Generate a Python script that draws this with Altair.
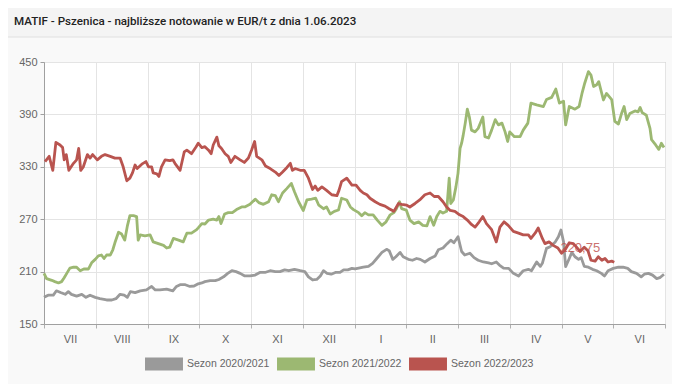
import altair as alt
import pandas as pd

title_text = "MATIF - Pszenica - najbliższe notowanie w EUR/t z dnia 1.06.2023"
months = ["VII", "VIII", "IX", "X", "XI", "XII", "I", "II", "III", "IV", "V", "VI", ""]
series_names = ["Sezon 2020/2021", "Sezon 2021/2022", "Sezon 2022/2023"]
series_colors = ["#9a9a9a", "#9cb872", "#b9544f"]
y_ticks = [150, 210, 270, 330, 390, 450]
last_label = "220,75"

# month position (0 = start of July) and EUR/t values
gray_x = [0.00, 0.08, 0.18, 0.24, 0.32, 0.41, 0.47, 0.53, 0.63, 0.73, 0.81, 0.89, 0.99, 1.08, 1.21, 1.31, 1.39, 1.47, 1.55, 1.61, 1.67, 1.76, 1.86, 1.98, 2.08, 2.15, 2.24, 2.37, 2.49, 2.56, 2.63, 2.73, 2.82, 2.90,
          2.98, 3.05, 3.11, 3.21, 3.31, 3.38, 3.47, 3.55, 3.63, 3.71, 3.79, 3.88, 3.98, 4.08, 4.17, 4.27, 4.37, 4.47, 4.56, 4.65, 4.73, 4.84, 4.95, 5.04, 5.11, 5.19, 5.27, 5.34, 5.40, 5.47, 5.55, 5.63, 5.72, 5.79, 5.87, 5.95,
          6.01, 6.08, 6.17, 6.27, 6.35, 6.43, 6.53, 6.62, 6.67, 6.74, 6.80, 6.88, 6.94, 7.04, 7.12, 7.20, 7.27, 7.36, 7.46, 7.56, 7.62, 7.71, 7.79, 7.86, 7.92, 8.00, 8.07, 8.13, 8.23, 8.31, 8.39, 8.49, 8.59, 8.65, 8.74, 8.80, 8.88,
          8.98, 9.07, 9.17, 9.26, 9.36, 9.42, 9.52, 9.59, 9.63, 9.71, 9.78, 9.88, 9.94, 9.99, 10.04, 10.08, 10.15, 10.20, 10.26, 10.33, 10.38, 10.44, 10.52, 10.60, 10.68, 10.77, 10.83, 10.90, 11.00, 11.10, 11.19, 11.28, 11.35, 11.45, 11.54, 11.60, 11.68, 11.76, 11.84, 11.90, 11.98]
gray_y = [180.5, 183, 183, 188, 186, 184, 187, 184, 182, 184, 180.5, 183, 180.5, 179, 177.5, 177.5, 179, 184, 183, 180.5, 187, 186, 188, 189, 193, 189, 189, 190, 188, 193, 195, 195, 193, 193.5,
          196, 197, 198.5, 199.6, 199.6, 201, 204, 208, 211, 210, 208, 205, 205, 206, 209, 209, 211, 210, 210, 212, 211, 212.6, 211, 210, 204, 200.4, 201, 205, 211, 208, 207, 209, 209, 212, 212, 213.7,
          213, 214, 215, 216, 219.5, 225, 232, 235.5, 234, 224, 227, 232, 227, 224, 223, 225, 224, 221, 225, 228, 235, 237, 242, 246, 243, 250, 233, 229, 231, 226, 223, 221, 220, 219, 221, 217.5, 214,
          213.7, 208, 205, 211, 212.6, 211, 221, 216, 219.5, 236.6, 238.5, 244, 250, 257.6, 244, 215.6, 225, 232, 227, 224, 226, 216, 215, 212.6, 211, 208, 205, 211, 213.7, 215, 215, 213.7, 210, 208, 204, 207, 208, 206, 202, 203, 207]

green_x = [0.00, 0.05, 0.15, 0.21, 0.28, 0.34, 0.39, 0.44, 0.50, 0.57, 0.63, 0.70, 0.77, 0.86, 0.92, 0.99, 1.05, 1.11, 1.16, 1.21, 1.28, 1.33, 1.37, 1.44, 1.50, 1.56, 1.61, 1.66, 1.73, 1.79, 1.82, 1.86, 1.95, 2.05, 2.11, 2.21, 2.31, 2.37, 2.43, 2.50, 2.60, 2.69, 2.76, 2.85, 2.95,
           2.98, 3.05, 3.11, 3.18, 3.27, 3.34, 3.38, 3.42, 3.49, 3.56, 3.64, 3.72, 3.82, 3.88, 3.98, 4.08, 4.15, 4.24, 4.34, 4.40, 4.47, 4.53, 4.61, 4.69, 4.78, 4.84, 4.92, 5.01, 5.08, 5.17, 5.25, 5.31, 5.40, 5.46, 5.53, 5.61, 5.69, 5.75, 5.85, 5.92,
           5.98, 6.08, 6.14, 6.20, 6.27, 6.36, 6.44, 6.53, 6.61, 6.69, 6.76, 6.81, 6.87, 6.91, 7.00, 7.07, 7.15, 7.24, 7.32, 7.40, 7.46, 7.53, 7.59, 7.65, 7.71, 7.78, 7.83, 7.86, 7.91, 7.96, 8.00, 8.04, 8.07, 8.10, 8.14, 8.18, 8.22, 8.26, 8.33, 8.39, 8.48, 8.52, 8.59, 8.65, 8.72, 8.78, 8.85,
           8.91, 8.96, 9.00, 9.09, 9.20, 9.26, 9.35, 9.41, 9.52, 9.65, 9.71, 9.81, 9.89, 9.96, 10.04, 10.08, 10.15, 10.26, 10.34, 10.40, 10.45, 10.52, 10.57, 10.62, 10.68, 10.72, 10.81, 10.87, 10.97, 11.03, 11.10, 11.16, 11.21, 11.26, 11.32, 11.42, 11.48, 11.52, 11.56, 11.64, 11.71, 11.74, 11.82, 11.88, 11.93, 11.98]
green_y = [208, 202, 200, 198.5, 197, 198.5, 203, 208, 214, 215, 215, 211, 213, 213, 220, 224, 228, 229, 225, 229, 229, 235, 243, 255, 253, 246, 262, 274, 274, 273, 246, 252, 251, 252, 244, 242, 240, 237, 238, 248, 246, 244, 254, 254, 258,
           260, 265, 264.5, 269, 270, 269, 273, 265, 276, 277.5, 277.5, 281, 284, 284, 287, 293, 289, 287, 290, 298, 297, 290, 300, 305, 311, 301.5, 290, 280, 292, 293, 294, 286, 282, 284, 276, 279, 280.5, 294, 292, 284,
           281, 277.5, 274, 277.5, 275, 275, 269, 263, 267, 275, 277.5, 282, 290, 282, 280.5, 269, 265, 267, 263, 262.5, 273, 263, 273, 279, 277, 279, 317, 288, 292, 307, 322.5, 351, 357, 366, 380, 396, 387, 372, 370, 374, 387, 364.5, 363, 372, 384, 378, 380,
           370, 359, 370, 364.5, 364.5, 372, 380, 403, 401, 399, 407, 409.5, 419, 403, 405, 378, 399, 396, 399, 415, 426, 439, 435, 422, 424, 427.5, 406.5, 414, 407, 382, 379, 391, 399, 384, 391, 394, 393, 398, 392, 389, 374, 361, 355, 350, 357, 352]

red_x = [0.02, 0.10, 0.17, 0.23, 0.31, 0.36, 0.39, 0.43, 0.48, 0.57, 0.63, 0.67, 0.71, 0.76, 0.84, 0.89, 0.94, 1.03, 1.11, 1.18, 1.28, 1.37, 1.47, 1.53, 1.60, 1.66, 1.71, 1.76, 1.80, 1.89, 1.97, 2.02, 2.08, 2.11, 2.18, 2.22, 2.27, 2.34, 2.43, 2.49, 2.53, 2.63, 2.71, 2.76, 2.85, 2.94,
         2.98, 3.05, 3.11, 3.18, 3.23, 3.27, 3.34, 3.38, 3.43, 3.50, 3.56, 3.61, 3.69, 3.79, 3.87, 3.95, 4.01, 4.07, 4.11, 4.21, 4.28, 4.37, 4.47, 4.54, 4.61, 4.69, 4.76, 4.80, 4.85, 4.95, 5.03, 5.11, 5.19, 5.24, 5.29, 5.37, 5.46, 5.56, 5.66, 5.70, 5.75, 5.85, 5.95,
         6.03, 6.11, 6.17, 6.24, 6.30, 6.40, 6.49, 6.59, 6.67, 6.76, 6.85, 6.91, 7.01, 7.07, 7.17, 7.26, 7.36, 7.46, 7.54, 7.62, 7.71, 7.78, 7.85, 7.94, 8.03, 8.10, 8.18, 8.26, 8.33, 8.41, 8.48, 8.55, 8.65, 8.74, 8.81, 8.89,
         8.97, 9.07, 9.17, 9.26, 9.36, 9.41, 9.49, 9.55, 9.63, 9.68, 9.76, 9.84, 9.93, 10.00, 10.07, 10.15, 10.23, 10.29, 10.36, 10.44, 10.51, 10.57, 10.65, 10.71, 10.78, 10.84, 10.90, 10.97, 11.02]
red_y = [336, 342, 326, 358, 355, 352, 338, 344, 326, 334, 338, 351, 326, 330, 344, 340, 344, 338, 342, 344, 342, 340, 340, 330, 314, 317, 323, 332, 328, 333, 336, 330, 330, 323, 322, 319, 330, 338, 337, 338, 334, 326, 347, 349, 345, 353,
         357, 352, 353, 349, 345, 355, 364, 354, 351, 345, 342, 335, 342, 338, 335, 340, 349, 359, 342, 338, 331, 328, 324, 320, 324, 329, 334, 326, 328, 326, 326, 317, 304, 308, 303, 307, 303, 298, 297, 303, 313, 317, 309,
         309, 303, 300, 298, 294, 290, 287, 285, 282, 279, 288, 287, 286, 284, 288, 292, 298, 300, 296, 296, 290, 284, 280, 279, 275, 273, 269, 264, 261, 267, 273, 265, 258, 244, 261, 267,
         263, 256, 254, 252, 252, 248, 254, 260, 248, 242, 244, 240, 237, 231, 235, 243, 242, 238, 233, 238, 234, 223, 222, 227, 223, 225, 221, 222, 220.75]

frames = []
for name, xs, ys in zip(series_names, [gray_x, green_x, red_x], [gray_y, green_y, red_y]):
    frames.append(pd.DataFrame({"m": xs, "v": ys, "s": name}))
df = pd.concat(frames, ignore_index=True)
last_df = pd.DataFrame({"m": [red_x[-1]], "v": [red_y[-1]], "t": [last_label]})

W, H = 621, 262
PAD = {"left": 36, "top": 54, "right": 7, "bottom": 60}

xscale = alt.Scale(domain=[0, 12], nice=False, zero=False)
yscale = alt.Scale(domain=[150, 450], nice=False, zero=False)

month_expr = "[" + ",".join("'" + m + "'" for m in months) + "][datum.value]"

lines = alt.Chart(df).mark_line(strokeWidth=2.8, strokeJoin="round").encode(
    x=alt.X("m:Q", scale=xscale, axis=alt.Axis(
        values=list(range(13)), title=None, grid=True, gridColor="#e4e4e4",
        tickSize=4, tickColor="#b0b0b0", domainColor="#a0a0a0",
        labelExpr=month_expr, labelOffset=26, labelColor="#666666",
        labelFontSize=11, labelFont="Liberation Sans", labelPadding=5,
        labelOverlap=False, labelBound=False, labelFlush=False)),
    y=alt.Y("v:Q", scale=yscale, axis=alt.Axis(
        values=y_ticks, title=None, grid=True, gridColor="#e4e4e4",
        tickSize=4, tickColor="#a0a0a0", domainColor="#a0a0a0",
        labelColor="#666666", labelFontSize=11, labelFont="Liberation Sans",
        labelPadding=3)),
    color=alt.Color("s:N", scale=alt.Scale(domain=series_names, range=series_colors),
                    legend=alt.Legend(
                        title=None, orient="none", direction="horizontal",
                        legendX=107, legendY=289,
                        symbolType="M-2.92,0H2.92", symbolSize=169, symbolStrokeWidth=13,
                        labelFontSize=10.5, labelFont="Liberation Sans", labelColor="#666666",
                        labelOffset=10, columnPadding=-19, padding=0)),
)

label = alt.Chart(last_df).mark_text(
    dx=-34, dy=-14, fontSize=13, font="Liberation Sans", color="#c0504d", opacity=0.8
).encode(x=alt.X("m:Q", scale=xscale), y=alt.Y("v:Q", scale=yscale), text="t:N")

deco = pd.DataFrame({"a": [0]})
header = alt.Chart(deco).mark_rect(color="#f4f4f4").encode(
    x=alt.value(-PAD["left"]), x2=alt.value(W + PAD["right"]),
    y=alt.value(-PAD["top"]), y2=alt.value(-25))
header_line = alt.Chart(deco).mark_rule(color="#e0e0e0", strokeWidth=1).encode(
    x=alt.value(-PAD["left"]), x2=alt.value(W + PAD["right"]), y=alt.value(-25))
title = alt.Chart(deco).mark_text(
    align="left", baseline="alphabetic", font="Roboto", fontSize=11.6,
    fontWeight=500, color="#222222"
).encode(x=alt.value(-30), y=alt.value(-37), text=alt.value(title_text))

chart = alt.layer(header, header_line, title, lines, label).properties(
    width=W, height=H, padding=PAD,
    autosize=alt.AutoSizeParams(type="none"),
    background="#f9f9f9",
).configure_view(fill="white", stroke="#b0b0b0")

chart.save("out.html", embed_options={"renderer": "svg", "actions": False})
